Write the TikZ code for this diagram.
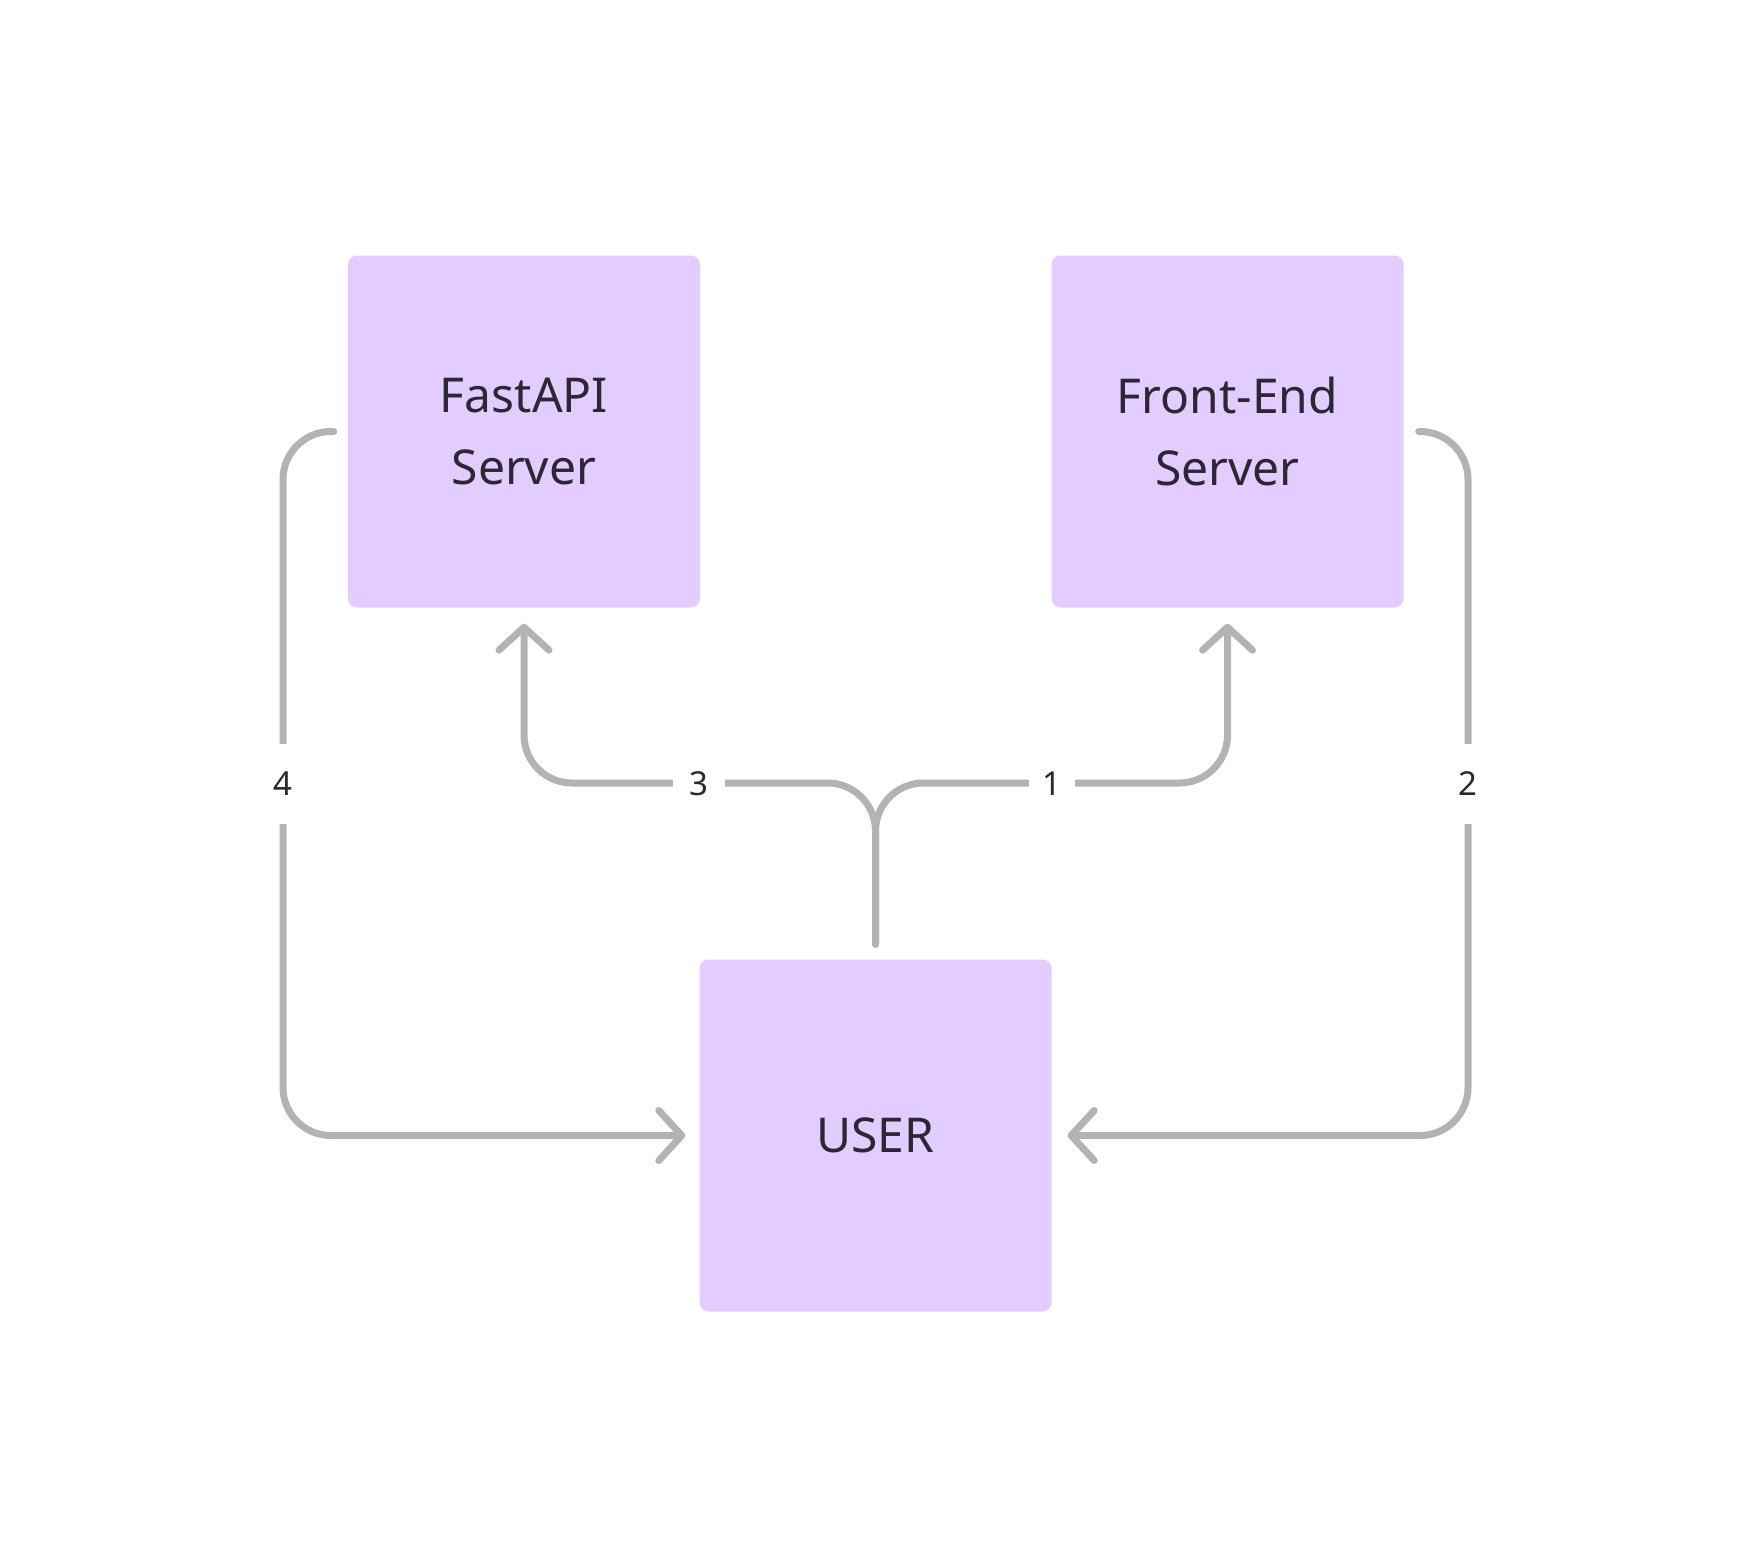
\documentclass[tikz,border=0pt]{standalone}
\usepackage{fontspec}
\setmainfont{Noto Sans}
\usetikzlibrary{arrows.meta,calc}
\definecolor{boxfill}{HTML}{E3CCFF}
\definecolor{txt}{HTML}{2D2633}
\definecolor{wire}{HTML}{B3B3B3}
\begin{document}
\begin{tikzpicture}[x=1pt,y=-1pt,
  box/.style={fill=boxfill,draw=none,rounded corners=9pt,minimum width=352pt,minimum height=352pt,
    align=center,text=txt,font=\fontsize{48}{72}\selectfont,inner sep=0pt},
  wireline/.style={draw=wire,line width=7pt,line cap=round,line join=round,rounded corners=48pt},
  tip/.style={-{Straight Barb[length=23pt,width=50pt,line cap=round,line join=round]}},
  lab/.style={fill=white,text=txt,font=\fontsize{33}{33}\selectfont,inner sep=0pt,minimum width=52pt,minimum height=80pt}]
\useasboundingbox (0,0) rectangle (1751,1568);
\node[box] (fa) at (524,431.5) {FastAPI\\Server};
\node[box] (fe) at (1227.5,431.5) {Front-End\\Server};
\node[box] (user) at (875.5,1135.5) {USER};
\coordinate (split) at (875.5,783);
\coordinate (leftx) at (283,0);
\coordinate (rightx) at (1468,0);
% connector 4
\draw[wireline,tip,shorten <=14pt,shorten >=14pt] (fa.west) -- (leftx |- fa.west) -- (leftx |- user.west) -- (user.west);
% connector 2
\draw[wireline,tip,shorten <=15pt,shorten >=16pt] (fe.east) -- (rightx |- fe.east) -- (rightx |- user.east) -- (user.east);
% connector 3
\draw[wireline,tip,shorten <=15pt,shorten >=16pt] (user.north) -- (split) -- (fa.south |- split) -- (fa.south);
% connector 1
\draw[wireline,tip,shorten <=15pt,shorten >=16pt] (user.north) -- (split) -- (fe.south |- split) -- (fe.south);
% labels
\node[lab] (l4) at (283,784) {4};
\node[lab] (l2) at (1468,784) {2};
\node[lab] (l3) at (699,784) {3};
\node[lab,minimum width=46pt] (l1) at (1052,784) {1};
\end{tikzpicture}
\end{document}
